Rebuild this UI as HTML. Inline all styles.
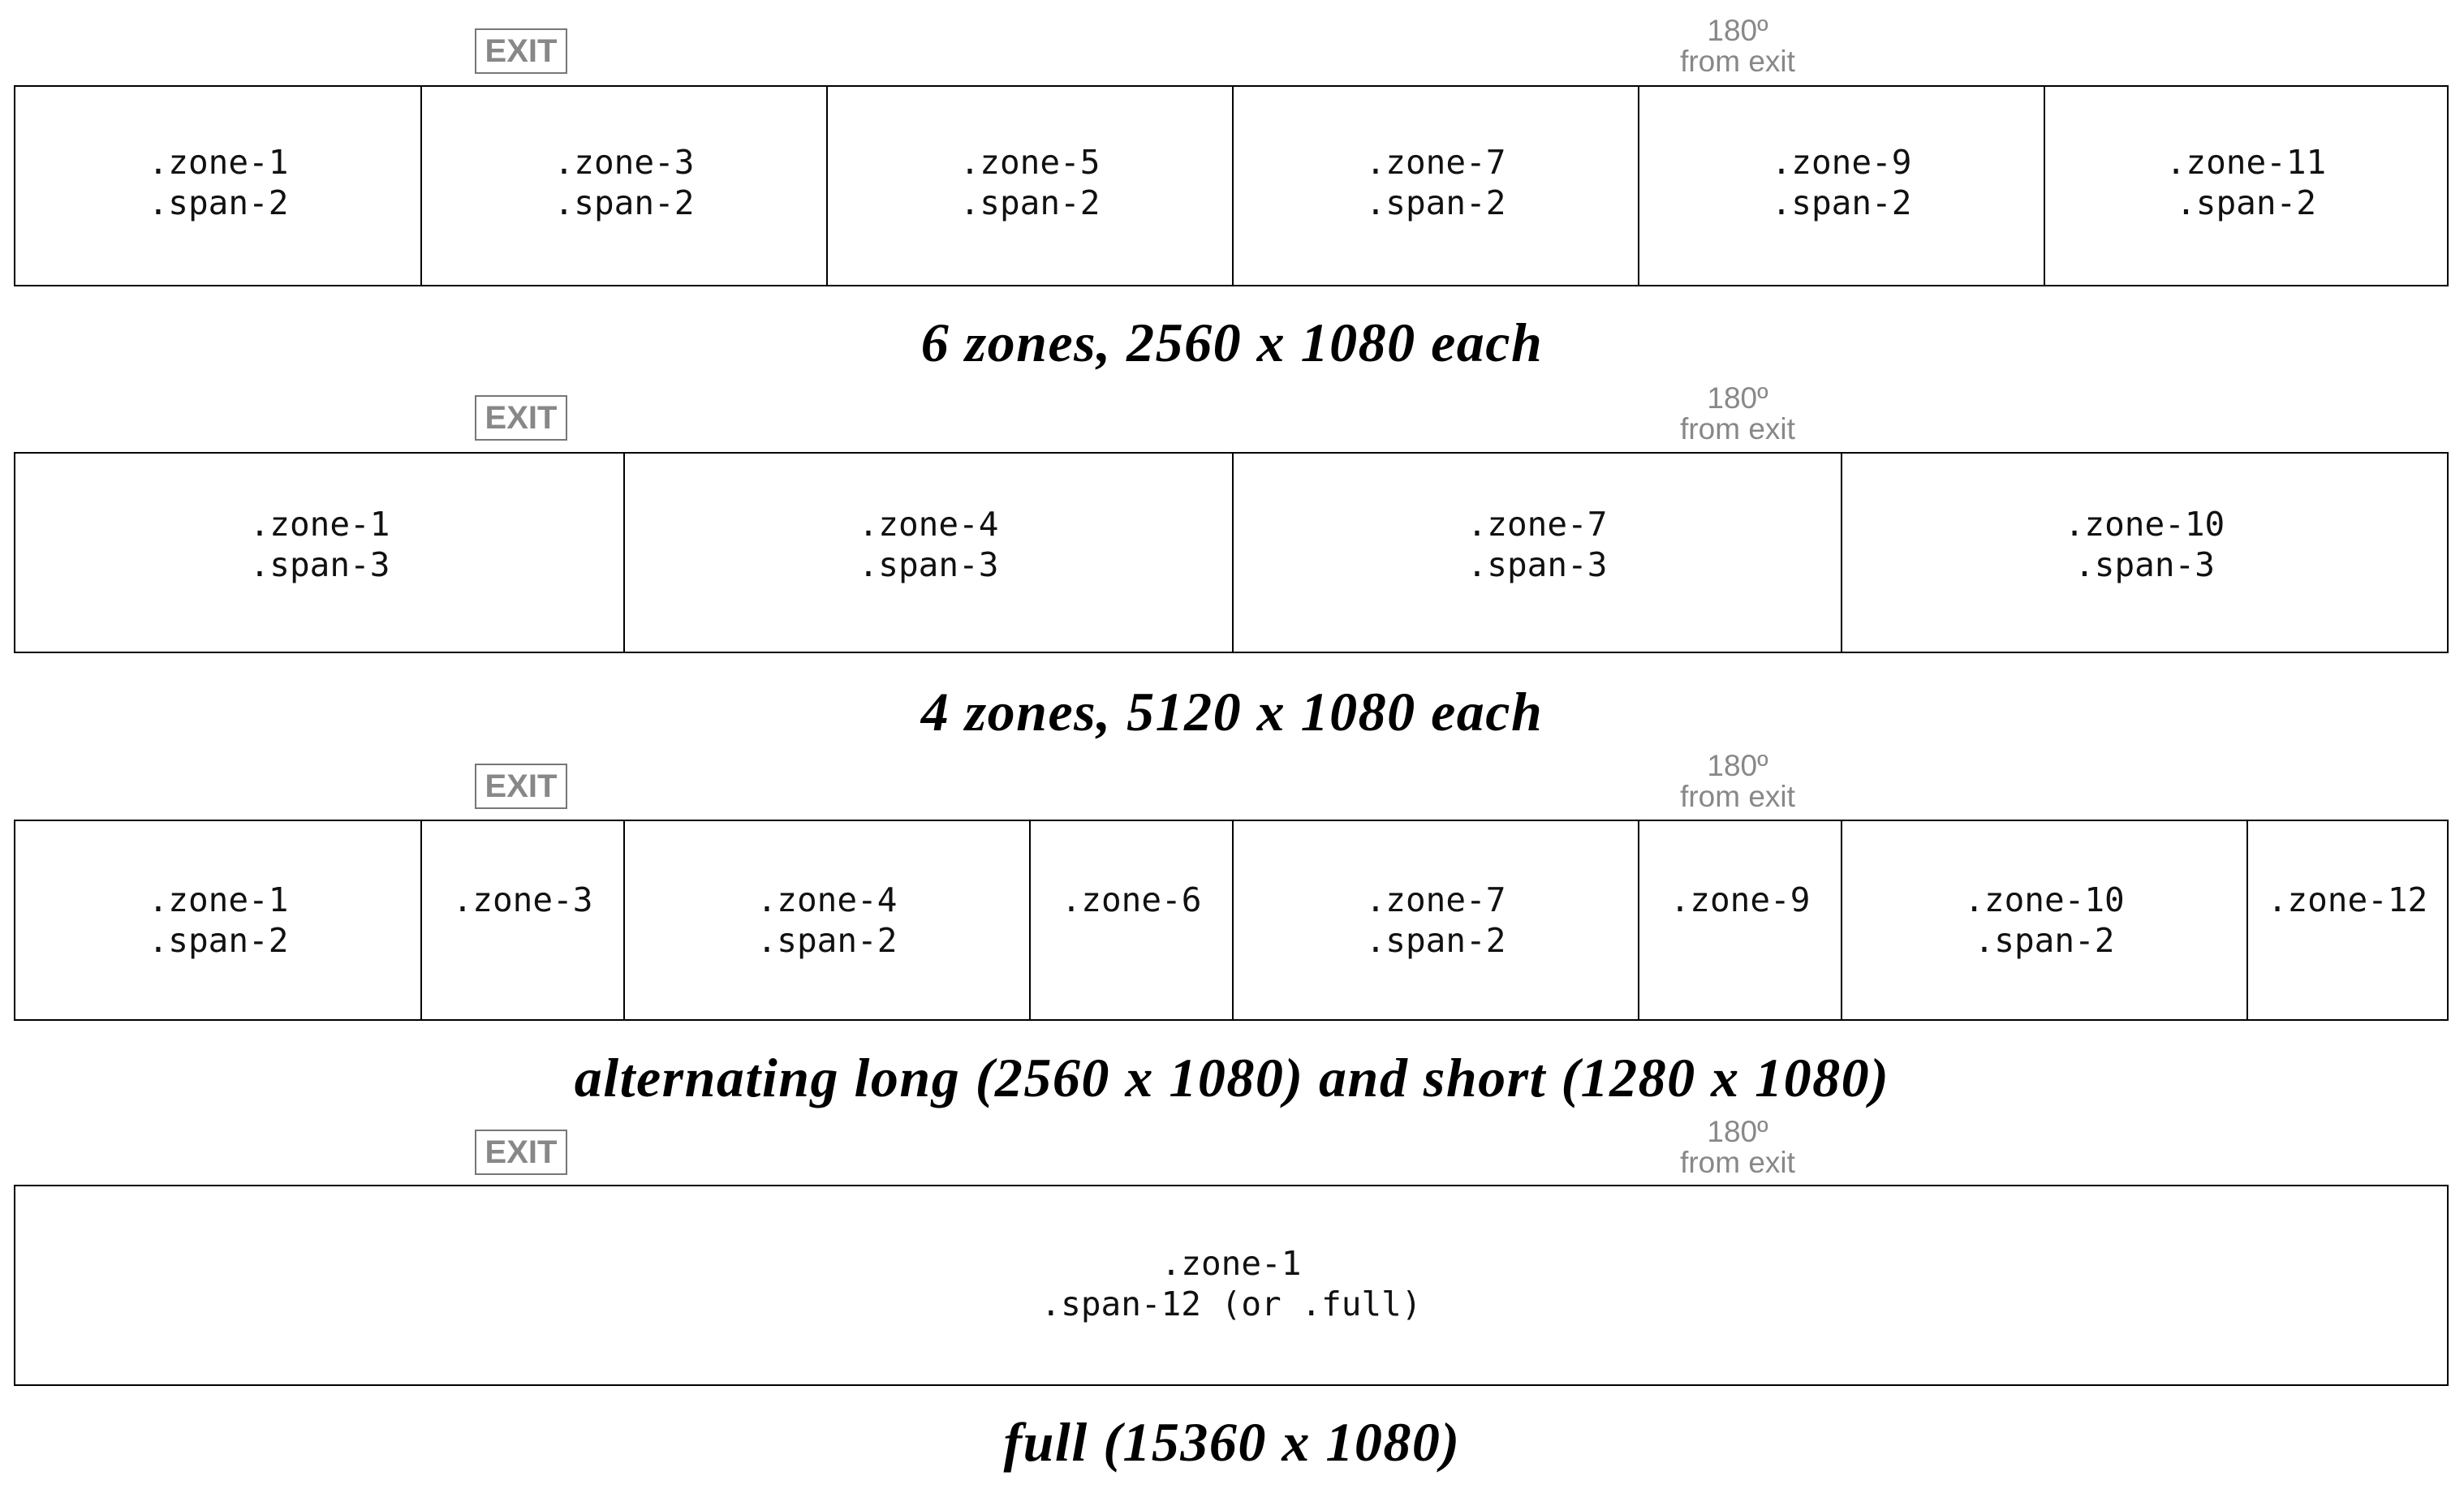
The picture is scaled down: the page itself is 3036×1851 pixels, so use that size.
<!DOCTYPE html>
<html><head><meta charset="utf-8"><style>
html,body{margin:0;padding:0;background:#fff;}
body{width:3036px;height:1851px;position:relative;overflow:hidden;}
.box{position:absolute;left:17px;width:2996px;height:244px;border:2px solid #000;}
.cell{position:absolute;top:0;height:244px;padding-top:68px;text-align:center;font-family:"DejaVu Sans Mono","Liberation Mono",monospace;font-size:41px;line-height:50px;color:#111;border-left:2px solid #000;box-sizing:border-box;}
.cell.first{border-left:none;}
.r3 .cell{padding-top:72px;}
.r4 .cell{padding-top:70px;}
.exit{position:absolute;left:585px;width:110px;height:52px;border:2px solid #777;color:#888;font-family:"Liberation Sans",sans-serif;font-weight:bold;font-size:40px;line-height:52px;text-align:center;}
.deg{position:absolute;left:1991px;width:300px;text-align:center;color:#888;font-family:"Liberation Sans",sans-serif;font-size:37px;line-height:38px;}
.cap{position:absolute;left:0;width:3036px;text-align:center;font-family:"Liberation Serif",serif;font-style:italic;font-weight:bold;font-size:68px;letter-spacing:1.5px;line-height:70px;color:#000;}
</style></head><body>

<!-- Row 1 -->
<div class="exit" style="top:35px">EXIT</div>
<div class="deg" style="top:19px">180º<br>from exit</div>
<div class="box" style="top:105px">
<div class="cell first" style="left:0;width:500px">.zone-1<br>.span-2</div>
<div class="cell" style="left:499px;width:500px">.zone-3<br>.span-2</div>
<div class="cell" style="left:999px;width:500px">.zone-5<br>.span-2</div>
<div class="cell" style="left:1499px;width:500px">.zone-7<br>.span-2</div>
<div class="cell" style="left:1999px;width:500px">.zone-9<br>.span-2</div>
<div class="cell" style="left:2499px;width:497px">.zone-11<br>.span-2</div>
</div>
<div class="cap" style="top:387px">6 zones, 2560 x 1080 each</div>

<!-- Row 2 -->
<div class="exit" style="top:487px">EXIT</div>
<div class="deg" style="top:472px">180º<br>from exit</div>
<div class="box" style="top:557px">
<div class="cell first" style="left:0;width:750px;padding-top:62px">.zone-1<br>.span-3</div>
<div class="cell" style="left:749px;width:750px;padding-top:62px">.zone-4<br>.span-3</div>
<div class="cell" style="left:1499px;width:750px;padding-top:62px">.zone-7<br>.span-3</div>
<div class="cell" style="left:2249px;width:747px;padding-top:62px">.zone-10<br>.span-3</div>
</div>
<div class="cap" style="top:842px">4 zones, 5120 x 1080 each</div>

<!-- Row 3 -->
<div class="exit" style="top:941px">EXIT</div>
<div class="deg" style="top:925px">180º<br>from exit</div>
<div class="box r3" style="top:1010px">
<div class="cell first" style="left:0;width:500px">.zone-1<br>.span-2</div>
<div class="cell" style="left:499px;width:250px">.zone-3</div>
<div class="cell" style="left:749px;width:500px">.zone-4<br>.span-2</div>
<div class="cell" style="left:1249px;width:250px">.zone-6</div>
<div class="cell" style="left:1499px;width:500px">.zone-7<br>.span-2</div>
<div class="cell" style="left:1999px;width:250px">.zone-9</div>
<div class="cell" style="left:2249px;width:500px">.zone-10<br>.span-2</div>
<div class="cell" style="left:2749px;width:247px">.zone-12</div>
</div>
<div class="cap" style="top:1293px">alternating long (2560 x 1080) and short (1280 x 1080)</div>

<!-- Row 4 -->
<div class="exit" style="top:1392px">EXIT</div>
<div class="deg" style="top:1376px">180º<br>from exit</div>
<div class="box r4" style="top:1460px">
<div class="cell first" style="left:0;width:2996px">.zone-1<br>.span-12 (or .full)</div>
</div>
<div class="cap" style="top:1742px">full (15360 x 1080)</div>

</body></html>
